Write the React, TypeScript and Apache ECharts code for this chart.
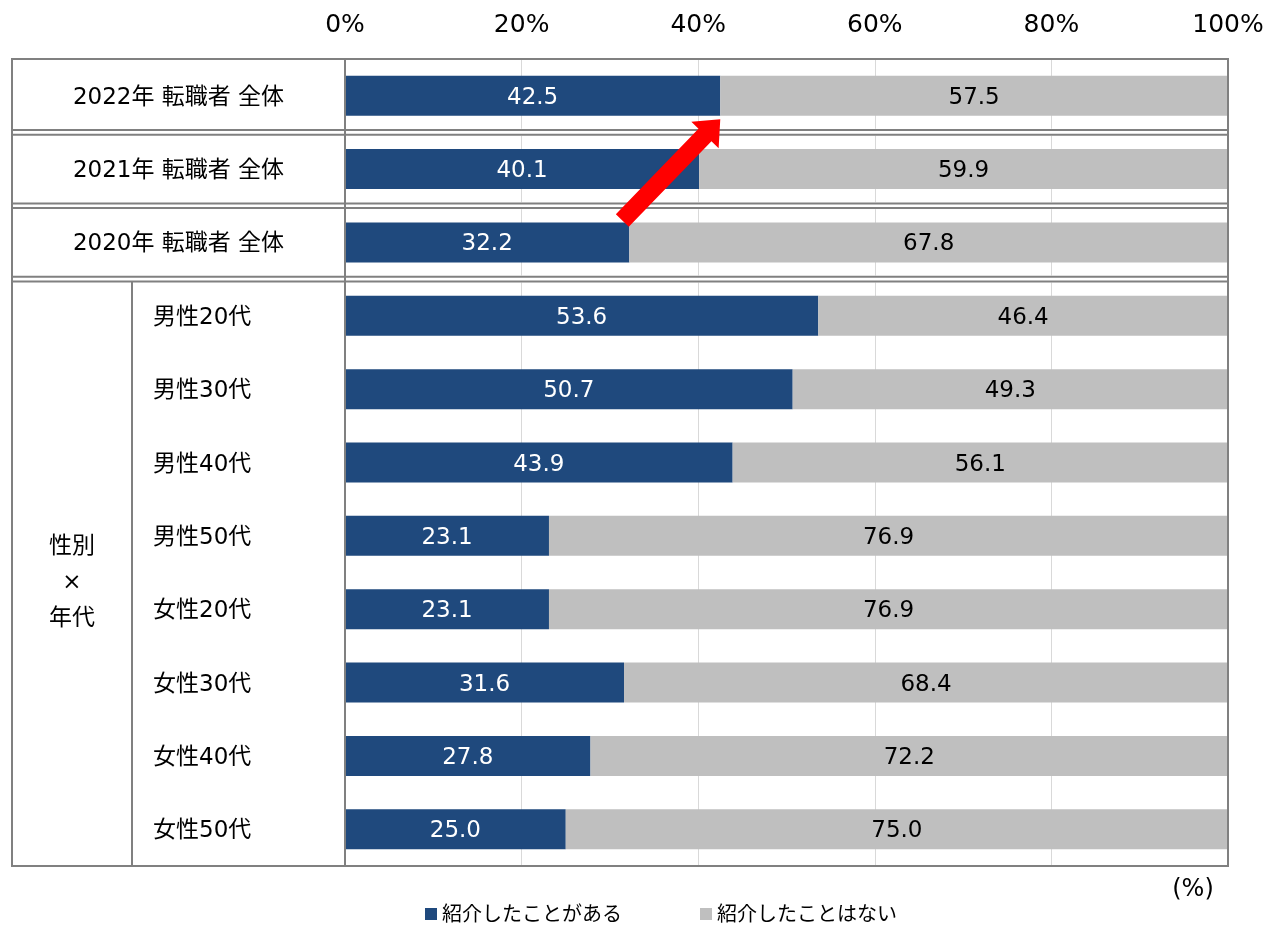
import React, { useEffect, useRef } from "react";
import * as echarts from "echarts";

const categories = [
  "2022年 転職者 全体",
  "2021年 転職者 全体",
  "2020年 転職者 全体",
  "男性20代",
  "男性30代",
  "男性40代",
  "男性50代",
  "女性20代",
  "女性30代",
  "女性40代",
  "女性50代",
];
const introduced = [42.5, 40.1, 32.2, 53.6, 50.7, 43.9, 23.1, 23.1, 31.6, 27.8, 25.0];
const notIntroduced = [57.5, 59.9, 67.8, 46.4, 49.3, 56.1, 76.9, 76.9, 68.4, 72.2, 75.0];
const seriesNames = ["紹介したことがある", "紹介したことはない"];
const groupLabel = "性別\n×\n年代";
const unitLabel = "(%)";
const overallRows = 3;

const FONT = "'DejaVu Sans', 'Noto Sans CJK JP', sans-serif";
const BLUE = "#1f497d";
const GRAY = "#bfbfbf";
const FRAME = "#808080";

export default function App() {
  const ref = useRef<HTMLDivElement>(null);

  useEffect(() => {
    if (!ref.current) return;
    const chart = echarts.init(ref.current, undefined, { renderer: "svg" });
    const gl = 345,
      gr = 1228,
      gt = 59,
      gb = 866;
    const W = 1267,
      H = 927;
    chart.setOption({
      animation: false,
      textStyle: { fontFamily: FONT },
      grid: { left: gl, right: W - gr, top: gt, bottom: H - gb },
      xAxis: {
        type: "value",
        position: "top",
        min: 0,
        max: 100,
        interval: 20,
        axisLine: { show: false },
        axisTick: { show: false },
        axisLabel: { formatter: "{value}%", fontSize: 25, color: "#000", margin: 23, fontFamily: FONT },
        splitLine: { lineStyle: { color: "#d9d9d9", width: 1 } },
      },
      yAxis: {
        type: "category",
        inverse: true,
        data: categories,
        axisLine: { show: false },
        axisTick: { show: false },
        axisLabel: { show: false },
      },
      legend: {
        left: 425,
        top: 903,
        padding: 0,
        itemWidth: 12,
        itemHeight: 12,
        itemGap: 78,
        icon: "rect",
        textStyle: { fontSize: 20, lineHeight: 22, color: "#000", fontFamily: FONT },
        data: seriesNames,
      },
      series: [
        {
          name: seriesNames[0],
          type: "bar",
          stack: "t",
          barWidth: 40,
          data: introduced,
          itemStyle: { color: BLUE },
          label: {
            show: true,
            position: "inside",
            color: "#fff",
            fontSize: 23,
            fontFamily: FONT,
            formatter: (p: any) => Number(p.value).toFixed(1),
          },
        },
        {
          name: seriesNames[1],
          type: "bar",
          stack: "t",
          barWidth: 40,
          data: notIntroduced,
          itemStyle: { color: GRAY },
          label: {
            show: true,
            position: "inside",
            color: "#000",
            fontSize: 23,
            fontFamily: FONT,
            formatter: (p: any) => Number(p.value).toFixed(1),
          },
        },
      ],
    });

    const tableL = 12;
    const subColX = 132;
    const rowH = (gb - gt) / categories.length;
    const graphics: any[] = [];
    const ln = (x1: number, y1: number, x2: number, y2: number, w = 2) => ({
      type: "line",
      shape: { x1, y1, x2, y2 },
      style: { stroke: FRAME, lineWidth: w },
      z: 50,
    });
    graphics.push({
      type: "rect",
      shape: { x: tableL, y: gt, width: gr - tableL, height: gb - gt },
      style: { fill: "none", stroke: FRAME, lineWidth: 2 },
      z: 50,
    });
    graphics.push(ln(gl, gt, gl, gb));
    for (let k = 1; k <= overallRows; k++) {
      const y = gt + k * rowH;
      graphics.push({
        type: "rect",
        shape: { x: tableL, y: y - 3.5, width: gr - tableL, height: 7 },
        style: { fill: "#fff" },
        z: 49,
      });
      graphics.push(ln(tableL, y - 2.3, gr, y - 2.3));
      graphics.push(ln(tableL, y + 2.3, gr, y + 2.3));
    }
    graphics.push(ln(subColX, gt + overallRows * rowH + 3, subColX, gb));

    categories.forEach((c, i) => {
      const y = chart.convertToPixel({ yAxisIndex: 0 }, c) as number;
      if (i < overallRows) {
        graphics.push({
          type: "text",
          x: (tableL + gl) / 2,
          y,
          style: { text: c, fontSize: 23, fontFamily: FONT, fill: "#000", align: "center", verticalAlign: "middle" },
          z: 60,
        });
      } else {
        graphics.push({
          type: "text",
          x: 153,
          y,
          style: { text: c, fontSize: 23, fontFamily: FONT, fill: "#000", align: "left", verticalAlign: "middle" },
          z: 60,
        });
      }
    });
    graphics.push({
      type: "text",
      x: (tableL + subColX) / 2,
      y: (gt + overallRows * rowH + gb) / 2 + 8,
      style: {
        text: groupLabel,
        fontSize: 23,
        lineHeight: 36,
        fontFamily: FONT,
        fill: "#000",
        align: "center",
        verticalAlign: "middle",
      },
      z: 60,
    });
    graphics.push({
      type: "text",
      x: 1193,
      y: 888,
      style: { text: unitLabel, fontSize: 24, fontFamily: FONT, fill: "#000", align: "center", verticalAlign: "middle" },
      z: 60,
    });

    // arrow from 2020 bar end to 2022 bar end
    const yTop2020 = (chart.convertToPixel({ yAxisIndex: 0 }, categories[2]) as number) - 20 - 2;
    const yBot2022 = (chart.convertToPixel({ yAxisIndex: 0 }, categories[0]) as number) + 20 + 3.5;
    const xTail = (chart.convertToPixel({ xAxisIndex: 0 }, introduced[2]) as number) - 7;
    const xTip = chart.convertToPixel({ xAxisIndex: 0 }, introduced[0]) as number;
    const dx = xTip - xTail,
      dy = yBot2022 - yTop2020;
    const len = Math.hypot(dx, dy);
    const ux = dx / len,
      uy = dy / len;
    const nx = -uy,
      ny = ux;
    const w = 9,
      h = 19,
      L = 22;
    const bx = xTip - ux * L,
      by = yBot2022 - uy * L;
    graphics.push({
      type: "polygon",
      shape: {
        points: [
          [xTail + nx * w, yTop2020 + ny * w],
          [bx + nx * w, by + ny * w],
          [bx + nx * h, by + ny * h],
          [xTip, yBot2022],
          [bx - nx * h, by - ny * h],
          [bx - nx * w, by - ny * w],
          [xTail - nx * w, yTop2020 - ny * w],
        ],
      },
      style: { fill: "#ff0000" },
      z: 70,
    });

    chart.setOption({ graphic: graphics });
    return () => chart.dispose();
  }, []);

  return <div ref={ref} style={{ position: "fixed", left: 0, top: 0, width: 1267, height: 927 }} />;
}
